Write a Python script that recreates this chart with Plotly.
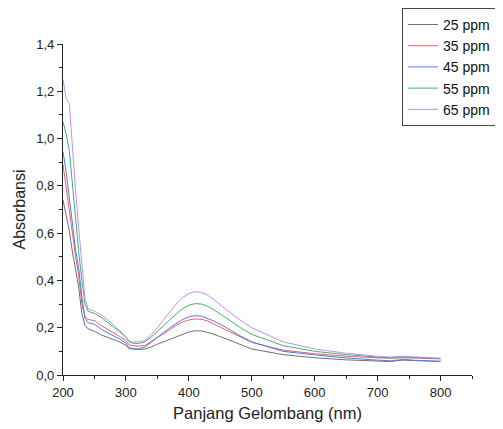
import plotly.graph_objects as go

wavelength = [200, 205, 210, 215, 220, 225, 230, 235, 240, 250, 260, 270, 280, 290, 300, 305, 310, 320, 330, 340,
              350, 360, 370, 380, 390, 400, 410, 420, 430, 440, 460, 480, 500, 550, 600, 650, 700, 720, 740, 760, 800]

ppm25 = [0.74, 0.68, 0.61, 0.52, 0.44, 0.37, 0.26, 0.21, 0.195, 0.185, 0.17, 0.16, 0.15, 0.14, 0.125, 0.112, 0.11, 0.108, 0.11, 0.118,
         0.13, 0.14, 0.152, 0.163, 0.173, 0.182, 0.187, 0.186, 0.18, 0.172, 0.152, 0.13, 0.11, 0.086, 0.073, 0.064, 0.059, 0.057, 0.063, 0.061, 0.057]
ppm35 = [0.89, 0.80, 0.70, 0.60, 0.50, 0.42, 0.30, 0.245, 0.235, 0.23, 0.21, 0.195, 0.18, 0.163, 0.145, 0.128, 0.124, 0.122, 0.125, 0.14,
         0.158, 0.175, 0.193, 0.21, 0.224, 0.233, 0.237, 0.236, 0.228, 0.215, 0.19, 0.162, 0.138, 0.105, 0.09, 0.079, 0.072, 0.07, 0.073, 0.071, 0.068]
ppm45 = [0.945, 0.86, 0.75, 0.64, 0.53, 0.45, 0.33, 0.24, 0.22, 0.215, 0.195, 0.18, 0.167, 0.152, 0.135, 0.115, 0.112, 0.11, 0.118, 0.14,
         0.16, 0.18, 0.2, 0.218, 0.235, 0.246, 0.251, 0.249, 0.24, 0.228, 0.2, 0.168, 0.14, 0.1, 0.085, 0.072, 0.063, 0.06, 0.066, 0.062, 0.058]
ppm55 = [1.07, 1.02, 0.95, 0.80, 0.66, 0.52, 0.40, 0.30, 0.27, 0.26, 0.245, 0.225, 0.205, 0.183, 0.16, 0.14, 0.135, 0.133, 0.14, 0.16,
         0.185, 0.21, 0.235, 0.258, 0.28, 0.295, 0.302, 0.3, 0.29, 0.275, 0.24, 0.203, 0.172, 0.124, 0.1, 0.086, 0.076, 0.073, 0.076, 0.074, 0.07]
ppm65 = [1.25, 1.17, 1.15, 0.95, 0.78, 0.62, 0.45, 0.32, 0.28, 0.27, 0.255, 0.235, 0.213, 0.188, 0.163, 0.145, 0.14, 0.14, 0.145, 0.17,
         0.2, 0.235, 0.27, 0.3, 0.327, 0.345, 0.352, 0.35, 0.337, 0.318, 0.275, 0.235, 0.2, 0.14, 0.11, 0.092, 0.079, 0.076, 0.079, 0.076, 0.071]

names = ["25 ppm", "35 ppm", "45 ppm", "55 ppm", "65 ppm"]
series = [ppm25, ppm35, ppm45, ppm55, ppm65]
colors = ["#707070", "#ff5a5a", "#4a7cf0", "#3cb371", "#c58cf5"]

fig = go.Figure()
for n, s, c in zip(names, series, colors):
    fig.add_trace(go.Scatter(x=wavelength, y=s, mode="lines", name=n,
                             line=dict(color=c, width=1)))

axis_common = dict(showline=True, linecolor="#222", linewidth=1.2, ticks="outside", ticklen=5,
                   tickcolor="#222", showgrid=False, zeroline=False,
                   tickfont=dict(family="Liberation Sans, Arial", size=13, color="#222"))

fig.update_layout(
    width=503, height=429,
    margin=dict(l=55, r=39, t=36, b=62, autoexpand=False),
    plot_bgcolor="white", paper_bgcolor="white",
    separators=", ",
    font=dict(family="Liberation Sans, Arial", color="#222"),
    xaxis=dict(range=[200, 850], dtick=100, tick0=200,
               minor=dict(ticks="outside", ticklen=3, dtick=50, tickcolor="#222"),
               title=dict(text="Panjang Gelombang (nm)", font=dict(size=16.5), standoff=8),
               **axis_common),
    yaxis=dict(range=[0, 1.4], dtick=0.2, tickformat=".1f",
               minor=dict(ticks="outside", ticklen=3, dtick=0.1, tickcolor="#222"),
               title=dict(text="Absorbansi", font=dict(size=16), standoff=6),
               **axis_common),
    legend=dict(x=0.829, y=1.109, xanchor="left", yanchor="top",
                bordercolor="#444", borderwidth=1, bgcolor="white",
                font=dict(family="Liberation Sans, Arial", size=14, color="#111"),
                tracegroupgap=0, itemwidth=30),
)

fig.write_html("out.html")
